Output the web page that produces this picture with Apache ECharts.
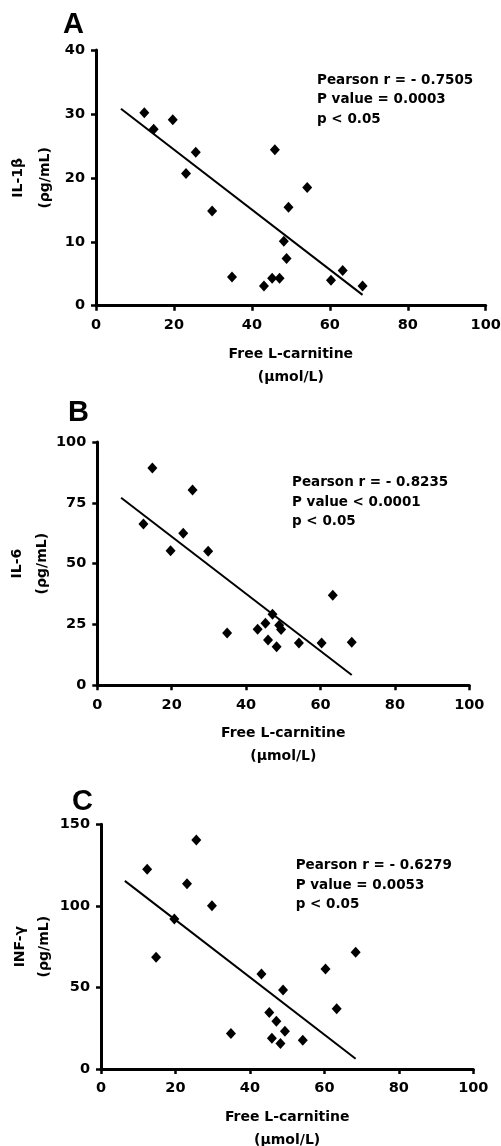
<!DOCTYPE html>
<html>
<head>
<meta charset="utf-8">
<script src="https://cdn.jsdelivr.net/npm/echarts@6/dist/echarts.min.js"></script>
<style>
html,body{margin:0;padding:0;background:#fff;}
#chart{width:501px;height:1146px;}
</style>
</head>
<body>
<div id="chart"></div>
<script>
// ---- data ----
const freeCarnitine = [12.4, 14.8, 19.7, 23.1, 25.6, 29.8, 34.9, 43.1, 45.2, 45.9, 47.1, 48.2, 48.9, 49.4, 54.2, 60.3, 63.3, 68.4];
const il1b  = [30.2, 27.6, 29.1, 20.7, 24.0, 14.8, 4.5, 3.1, 4.3, 24.4, 4.3, 10.1, 7.4, 15.4, 18.5, 4.0, 5.5, 3.1];
const il6   = [66.3, 89.3, 55.3, 62.5, 80.3, 55.1, 21.5, 23.0, 25.5, 18.6, 29.2, 15.8, 24.7, 22.9, 17.4, 17.4, 37.0, 17.7];
const infg  = [122.4, 68.5, 92.0, 113.6, 140.4, 100.1, 21.7, 58.2, 34.7, 18.8, 29.2, 15.7, 48.4, 23.1, 17.6, 61.3, 37.0, 71.5];

const fitX  = [6.4, 68.4];
const fitA  = [30.8, 1.7];
const fitB  = [77.1, 4.2];
const fitC  = [115.3, 6.3];

const panelLetters = ['A', 'B', 'C'];
const yNames = ['IL-1\u03b2\n(\u03c1g/mL)', 'IL-6\n(\u03c1g/mL)', 'INF-\u03b3\n(\u03c1g/mL)'];
const xName = 'Free L-carnitine\n(\u03bcmol/L)';
const yMax = [40, 100, 150];
const yInterval = [10, 25, 50];
const statsText = [
  ['Pearson r = - 0.7505', 'P value = 0.0003', 'p < 0.05'],
  ['Pearson r = - 0.8235', 'P value < 0.0001', 'p < 0.05'],
  ['Pearson r = - 0.6279', 'P value = 0.0053', 'p < 0.05']
];

// ---- layout ----
const grids = [
  {left: 96, right: 15.3, top: 50, bottom: 840.3, outerBoundsMode: 'none', containLabel: false},
  {left: 97.3, right: 31.7, top: 442, bottom: 460.7, outerBoundsMode: 'none', containLabel: false},
  {left: 101, right: 27.7, top: 824.3, bottom: 77, outerBoundsMode: 'none', containLabel: false}
];
const yNameGap = [37, 42, 45];
const yNameLH = [27, 25, 24];
const letterPos = [[63, 25.5], [68, 413], [72, 802]];
const statsPos = [[317, 80], [292, 482.7], [295.7, 865.7]];

const FONT = '"DejaVu Sans", sans-serif';
const axisLineStyle = {color: '#000', width: 3};
const tickStyle = {color: '#000', width: 2.5};

const xAxes = [], yAxes = [], series = [], graphics = [];
const ySets = [il1b, il6, infg];
const fits = [fitA, fitB, fitC];

for (let i = 0; i < 3; i++) {
  xAxes.push({
    gridIndex: i, type: 'value', min: 0, max: 100, interval: 20,
    axisLine: {show: true, lineStyle: axisLineStyle},
    axisTick: {show: true, length: 5, lineStyle: tickStyle},
    axisLabel: {color: '#000', fontFamily: FONT, fontWeight: 'bold', fontSize: 14.5, margin: 12},
    splitLine: {show: false},
    name: xName, nameLocation: 'middle', nameGap: 37, nameMoveOverlap: false,
    nameTextStyle: {color: '#000', fontFamily: FONT, fontWeight: 'bold', fontSize: 14, lineHeight: 23}
  });
  yAxes.push({
    gridIndex: i, type: 'value', min: 0, max: yMax[i], interval: yInterval[i],
    axisLine: {show: true, lineStyle: axisLineStyle},
    axisTick: {show: true, length: 5, lineStyle: tickStyle},
    axisLabel: {color: '#000', fontFamily: FONT, fontWeight: 'bold', fontSize: 14.5, margin: 11},
    splitLine: {show: false},
    name: yNames[i], nameLocation: 'middle', nameRotate: 90,
    nameGap: yNameGap[i], nameMoveOverlap: false,
    nameTextStyle: {color: '#000', fontFamily: FONT, fontWeight: 'bold', fontSize: 14, lineHeight: yNameLH[i]}
  });
  series.push({
    type: 'scatter', xAxisIndex: i, yAxisIndex: i,
    symbol: 'diamond', symbolSize: [10, 11],
    itemStyle: {color: '#000', opacity: 1},
    data: freeCarnitine.map((x, k) => [x, ySets[i][k]]),
    z: 3
  });
  series.push({
    type: 'line', xAxisIndex: i, yAxisIndex: i,
    showSymbol: false, symbol: 'none',
    lineStyle: {color: '#000', width: 2},
    data: fitX.map((x, k) => [x, fits[i][k]]),
    z: 2, silent: true
  });
  graphics.push({
    type: 'text', left: letterPos[i][0], top: letterPos[i][1] - 15,
    style: {text: panelLetters[i], fill: '#000', font: 'bold 29px "Liberation Sans", Arial, sans-serif'}
  });
  statsText[i].forEach((t, k) => {
    graphics.push({
      type: 'text', x: statsPos[i][0], y: statsPos[i][1] + k * 19.5,
      style: {text: t, fill: '#000', font: 'bold 13.5px "DejaVu Sans", sans-serif', verticalAlign: 'middle', align: 'left'}
    });
  });
}

const chart = echarts.init(document.getElementById('chart'), null, {renderer: 'canvas'});
chart.setOption({
  backgroundColor: '#fff',
  animation: false,
  grid: grids,
  xAxis: xAxes,
  yAxis: yAxes,
  series: series,
  graphic: graphics
});
</script>
</body>
</html>
